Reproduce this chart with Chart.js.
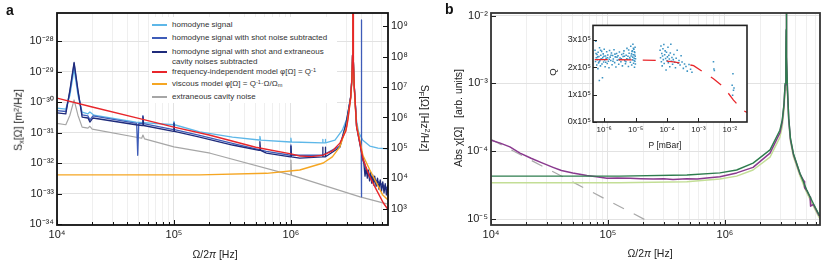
<!DOCTYPE html>
<html><head><meta charset="utf-8">
<script src="https://cdn.jsdelivr.net/npm/chart.js@4.4.1/dist/chart.umd.min.js"></script>
<style>
html,body{margin:0;padding:0;background:#fff;}
#wrap{position:relative;width:830px;height:261px;background:#fff;overflow:hidden;font-family:'Liberation Sans',Arial,sans-serif;}
canvas{position:absolute;}
.t{position:absolute;white-space:nowrap;line-height:1;color:#222;font-family:'Liberation Sans',Arial,sans-serif;}
.t sup{font-size:70%;vertical-align:0.45em;line-height:0;}
.t sub{font-size:70%;vertical-align:-0.25em;line-height:0;}
.rot{transform:translate(-50%,-50%) rotate(-90deg);}
.rotc{transform:translate(-50%,-50%) rotate(90deg);}
.ctr{transform:translate(-50%,-50%);}
.lg{position:absolute;height:2px;width:15px;}
.lt{position:absolute;white-space:nowrap;font-size:8px;line-height:1;color:#333;font-family:'Liberation Sans',Arial,sans-serif;}
.lt sup{font-size:70%;vertical-align:0.4em;line-height:0;}
.lt sub{font-size:70%;vertical-align:-0.2em;line-height:0;}
</style></head>
<body>
<div id="wrap">
<canvas id="ca" width="440" height="261" style="left:0;top:0"></canvas>
<canvas id="cb" width="390" height="261" style="left:440px;top:0"></canvas>
<canvas id="ci" width="215" height="135" style="left:545px;top:18px"></canvas>

<div class="t" style="left:6px;top:3px;font-size:14px;font-weight:bold;color:#111">a</div>
<div class="t" style="left:445px;top:2px;font-size:14px;font-weight:bold;color:#111">b</div>

<div class="t rot" style="left:18px;top:120px;font-size:10.5px">S<sub>x</sub>[Ω] [m<sup>2</sup>/Hz]</div>
<div class="t rotc" style="left:425px;top:118px;font-size:10.5px">S<sub>F</sub>[Ω] [Hz<sup>2</sup>/Hz]</div>
<div class="t ctr" style="left:215px;top:254px;font-size:10.5px">Ω/2<i>π</i> [Hz]</div>
<div class="t rot" style="left:458px;top:118px;font-size:10.5px">Abs χ[Ω]&nbsp;&nbsp;&nbsp;[arb. units]</div>
<div class="t ctr" style="left:650px;top:253px;font-size:10.5px">Ω/2<i>π</i> [Hz]</div>
<div class="t rot" style="left:553px;top:72px;font-size:9.5px">Q</div>
<div class="t ctr" style="left:665px;top:145px;font-size:8.5px">P [mBar]</div>

<div style="position:absolute;left:149px;top:17px;width:188px;height:86px;background:#fff"></div>
<div class="lg" style="left:152px;top:24px;background:#5DB7E8"></div>
<div class="lt" style="left:172px;top:21px">homodyne signal</div>
<div class="lg" style="left:152px;top:37px;background:#3E5CB8"></div>
<div class="lt" style="left:172px;top:34px">homodyne signal with shot noise subtracted</div>
<div class="lg" style="left:152px;top:51px;background:#1F2B7B"></div>
<div class="lt" style="left:172px;top:48px">homodyne signal with shot and extraneous</div>
<div class="lt" style="left:172px;top:58px">cavity noises subtracted</div>
<div class="lg" style="left:152px;top:71px;background:#E8262B"></div>
<div class="lt" style="left:172px;top:68px">frequency-independent model φ[Ω] = Q<sup>-1</sup></div>
<div class="lg" style="left:152px;top:83px;background:#F5A623"></div>
<div class="lt" style="left:172px;top:80px">viscous model φ[Ω] = Q<sup>-1</sup>·Ω/Ω<sub>m</sub></div>
<div class="lg" style="left:152px;top:96px;background:#A6A6A6"></div>
<div class="lt" style="left:172px;top:93px">extraneous cavity noise</div>
</div>

<script>
// ---------------- Panel a data (frequency Hz, S_x m^2/Hz) ----------------
const fLight = [1e4,1.19e4,1.29e4,1.40e4,1.51e4,1.64e4,1.84e4,1.91e4,2.07e4,4.73e4,9.9e4,1.0e5,1.01e5,1.66e5,3.16e5,5.35e5,5.43e5,5.5e5,9.9e5,1.0e6,1.01e6,1.86e6,1.87e6,1.88e6,1.96e6,1.97e6,1.98e6,2.38e6,2.75e6,3.07e6,3.24e6,3.32e6,3.365e6,3.385e6,3.396e6,3.408e6,3.428e6,3.475e6,3.556e6,3.64e6,3.8e6,4.12e6,4.73e6,5.55e6,6.76e6];
const sLight = [6.3e-31,5.9e-31,1.7e-30,1.2e-29,1.7e-30,4.7e-31,4.1e-31,4.7e-31,3.7e-31,2.2e-31,1.8e-31,2.3e-31,1.8e-31,1.05e-31,7.1e-32,5.7e-32,7.5e-32,5.6e-32,4.9e-32,6.5e-32,4.9e-32,4.6e-32,6.0e-32,4.6e-32,4.6e-32,6.0e-32,4.6e-32,5.6e-32,1.2e-31,3.5e-31,1.5e-30,5.8e-30,3.6e-29,2.5e-28,1e-25,1.6e-28,2.2e-29,3.6e-30,8.5e-31,2.4e-31,1.0e-31,5.6e-32,3.6e-32,3.1e-32,2.9e-32];

const fMed = [1e4,1.19e4,1.29e4,1.40e4,1.51e4,1.64e4,1.84e4,1.91e4,2.03e4,4.8e4,4.9e4,5.0e4,5.35e4,5.43e4,5.5e4,9.9e4,1.0e5,1.01e5,1.66e5,3.16e5,6.17e5,9.9e5,1.0e6,1.01e6,1.86e6,2.62e6,2.95e6,3.24e6,3.32e6,3.365e6,3.385e6,3.396e6,3.408e6,3.428e6,3.475e6,3.556e6,3.64e6,3.95e6,3.99e6,4.0e6,4.01e6,4.03e6,4.2e6,4.5e6,5.0e6,5.5e6,6.0e6,6.5e6,6.76e6];
const sMed = [5.2e-31,4.9e-31,2.2e-30,1.8e-29,2.2e-30,3.8e-31,3.5e-31,2.6e-31,3.5e-31,2.0e-31,1.8e-32,2.0e-31,1.95e-31,3.6e-31,1.95e-31,1.25e-31,2.1e-31,1.25e-31,8.0e-32,4.4e-32,2.4e-32,1.8e-32,3.9e-32,1.8e-32,1.8e-32,3.6e-32,1.9e-31,1.45e-30,5.7e-30,3.5e-29,2.5e-28,1e-25,1.6e-28,2.2e-29,3.6e-30,8.0e-31,1.7e-31,3.5e-32,3.5e-32,4.9e-28,7.8e-34,2.5e-32,1.2e-32,4.6e-33,3.4e-33,2.5e-33,2.0e-33,1.6e-33,1.4e-33];

const fNavy = [1e4,1.19e4,1.29e4,1.40e4,1.51e4,1.64e4,1.84e4,1.91e4,2.03e4,4.73e4,5.35e4,5.43e4,5.5e4,9.9e4,1.0e5,1.01e5,1.66e5,3.16e5,5.35e5,5.43e5,5.5e5,6.17e5,9.9e5,1.0e6,1.01e6,1.19e6,1.86e6,1.87e6,1.88e6,1.96e6,1.97e6,1.98e6,2.62e6,2.95e6,3.24e6,3.32e6,3.365e6,3.385e6,3.396e6,3.408e6,3.428e6,3.475e6,3.556e6,3.64e6,4.12e6,4.2e6,4.3e6,4.4e6,4.5e6,4.6e6,4.7e6,4.8e6,4.9e6,5.0e6,5.1e6,5.2e6,5.35e6,5.5e6,5.65e6,5.8e6,5.95e6,6.1e6,6.25e6,6.4e6,6.55e6,6.7e6,6.76e6];
const sNavy = [4.4e-31,4.1e-31,2.5e-30,2.0e-29,2.5e-30,3.2e-31,3.0e-31,2.2e-31,3.0e-31,1.8e-31,1.7e-31,3.3e-31,1.7e-31,1.1e-31,2.0e-31,1.1e-31,7.1e-32,3.9e-32,2.6e-32,5.0e-32,2.6e-32,2.1e-32,1.6e-32,3.6e-32,1.6e-32,1.45e-32,1.6e-32,3.3e-32,1.6e-32,1.6e-32,3.3e-32,1.6e-32,3.3e-32,1.8e-31,1.4e-30,5.6e-30,3.5e-29,2.5e-28,1e-25,1.6e-28,2.2e-29,3.5e-30,7.9e-31,1.6e-31,1.26e-32,1.0e-32,3.7e-33,6.9e-33,3.2e-33,5.9e-33,2.6e-33,5.0e-33,2.2e-33,4.1e-33,1.9e-33,3.7e-33,1.7e-33,3.2e-33,1.4e-33,2.8e-33,1.2e-33,2.4e-33,1.05e-33,2.1e-33,9.0e-34,1.8e-33,1.0e-33];

const fRed = [1e4,2e4,5e4,1e5,2e5,5e5,1e6,1.19e6,1.5e6,1.89e6,2.26e6,2.62e6,2.95e6,3.07e6,3.24e6,3.32e6,3.365e6,3.385e6,3.396e6,3.408e6,3.428e6,3.475e6,3.556e6,3.64e6,4.15e6,4.73e6,5.4e6,6.17e6,6.76e6];
const sRed = [1.35e-30,6.9e-31,2.9e-31,1.5e-31,8.3e-32,3.3e-32,2.0e-32,1.7e-32,1.62e-32,1.82e-32,2.5e-32,4.5e-32,1.12e-31,2.6e-31,1.4e-30,5.6e-30,3.5e-29,2.5e-28,1e-25,1.6e-28,2.2e-29,3.5e-30,7.9e-31,1.55e-31,1.26e-32,3.5e-33,1.3e-33,4.9e-34,3.0e-34];

const fOrange = [1e4,1e5,1.66e5,6.2e5,1.19e6,1.89e6,2.26e6,2.62e6,2.99e6,3.24e6,3.32e6,3.365e6,3.385e6,3.396e6,3.408e6,3.428e6,3.475e6,3.556e6,3.64e6,4.12e6,4.73e6,5.4e6,6.1e6,6.76e6];
const sOrange = [4.1e-33,4.1e-33,4.1e-33,4.6e-33,5.9e-33,1.0e-32,1.6e-32,3.4e-32,1.55e-31,1.26e-30,5.0e-30,3.2e-29,2.2e-28,1e-25,1.4e-28,2.0e-29,3.2e-30,6.3e-31,1.8e-31,1.8e-32,5.9e-33,2.2e-33,8.9e-34,6.2e-34];

const fGray = [1e4,1.19e4,1.29e4,1.40e4,1.51e4,1.64e4,1.84e4,1.91e4,2.0e4,5.3e4,5.43e4,5.6e4,1e5,2.04e5,9.9e5,1.0e6,1.01e6,3.9e6,6.6e6];
const sGray = [2.0e-31,1.8e-31,3.7e-31,1.17e-30,3.7e-31,1.5e-31,1.4e-31,1.6e-31,1.3e-31,6.5e-32,8.3e-32,6.2e-32,3.4e-32,2.1e-32,4.1e-33,1.26e-32,4.0e-33,7.8e-34,4.6e-34];

// ---------------- Panel b data (frequency Hz, |chi| arb. units) ----------------
const fModel = [1e4,1.26e5,4.73e5,9.06e5,1.26e6,1.74e6,2.43e6,2.95e6,3.09e6,3.2e6,3.27e6,3.32e6,3.34e6,3.35e6,3.357e6,3.38e6,3.43e6,3.51e6,3.63e6,3.85e6,4.39e6,5.0e6,5.7e6,6.4e6,6.5e6];
const chiDark = [4.3e-5,4.3e-5,4.47e-5,4.8e-5,5.3e-5,6.7e-5,1.05e-4,2.04e-4,2.88e-4,5.0e-4,1e-3,2.5e-3,6.3e-3,0.1,6.3e-3,2.5e-3,7.9e-4,3.16e-4,1.58e-4,9.3e-5,4.7e-5,2.7e-5,1.7e-5,1.15e-5,1.1e-5];
const chiLight = [3.43e-5,3.43e-5,3.55e-5,3.9e-5,4.3e-5,5.3e-5,8.2e-5,1.6e-4,2.3e-4,4.0e-4,8.0e-4,2.0e-3,5.0e-3,0.1,5.0e-3,2.0e-3,6.5e-4,2.7e-4,1.4e-4,8.3e-5,4.3e-5,2.45e-5,1.55e-5,1.05e-5,1.0e-5];
const fData = [1e4,1.2e4,1.45e4,1.77e4,2.2e4,2.7e4,3.39e4,4.0e4,5.0e4,6.6e4,8.0e4,9.8e4,1.2e5,1.55e5,1.9e5,2.43e5,3.0e5,3.6e5,4.73e5,5.8e5,7.0e5,9.06e5,1.26e6,1.74e6,2.43e6,2.95e6,3.09e6,3.2e6,3.27e6,3.32e6,3.34e6,3.35e6,3.357e6,3.38e6,3.43e6,3.51e6,3.63e6,3.85e6,4.39e6,4.75e6,4.8e6,5.0e6,5.35e6,5.4e6,5.7e6,6.4e6];
const chiData = [1.46e-4,1.32e-4,1.16e-4,9.4e-5,7.9e-5,6.8e-5,5.8e-5,5.2e-5,4.8e-5,4.4e-5,4.2e-5,4.0e-5,4.05e-5,4.0e-5,3.95e-5,3.9e-5,3.95e-5,3.85e-5,3.95e-5,3.9e-5,4.05e-5,4.2e-5,4.8e-5,5.8e-5,9.4e-5,1.86e-4,2.7e-4,4.8e-4,9.5e-4,2.4e-3,6e-3,0.08,6e-3,2.4e-3,7.6e-4,3.0e-4,1.5e-4,9e-5,4.6e-5,3.6e-5,2.9e-5,2.65e-5,2.1e-5,1.55e-5,1.65e-5,1.12e-5];
const fDash = [1e4,2.2e5];
const chiDash = [1.5e-4,9.3e-6];

// ---------------- Inset data (pressure mBar, Q) ----------------
const pModel = [5.0e-7,1e-6,1e-5,6e-5,1.6e-4,7e-4,1.45e-3,3e-3,6.3e-3,1.3e-2,2.5e-2,3.5e-2];
const qModel = [2.28e5,2.28e5,2.27e5,2.25e5,2.2e5,2.06e5,1.82e5,1.58e5,1.28e5,0.8e5,0.44e5,0.35e5];
const pMeas = [5.1e-7,5.3e-7,5.4e-7,5.6e-7,5.8e-7,5.9e-7,6.1e-7,6.3e-7,6.4e-7,6.6e-7,6.8e-7,7.0e-7,7.1e-7,7.3e-7,7.6e-7,7.8e-7,8.0e-7,8.3e-7,8.5e-7,8.8e-7,9.0e-7,9.3e-7,9.6e-7,1.0e-6,1.03e-6,1.07e-6,1.1e-6,1.15e-6,1.2e-6,1.25e-6,1.3e-6,1.36e-6,1.42e-6,1.48e-6,1.55e-6,1.62e-6,1.7e-6,1.78e-6,1.86e-6,1.95e-6,2.05e-6,2.15e-6,2.25e-6,2.36e-6,2.48e-6,2.6e-6,2.75e-6,2.9e-6,3.05e-6,3.2e-6,3.4e-6,3.6e-6,3.8e-6,4.0e-6,4.25e-6,4.5e-6,4.75e-6,5.0e-6,5.3e-6,5.6e-6,5.9e-6,6.2e-6,6.5e-6,6.8e-6,7.0e-6,7.2e-6,7.5e-6,7.7e-6,8.0e-6,8.2e-6,8.4e-6,8.6e-6,8.8e-6,9.0e-6,9.2e-6,9.4e-6,9.5e-6,9.6e-6,9.7e-6,9.8e-6,
5.5e-7,6.2e-7,6.9e-7,7.7e-7,8.7e-7,9.8e-7,1.12e-6,1.28e-6,1.45e-6,1.65e-6,1.9e-6,2.2e-6,2.55e-6,2.95e-6,3.5e-6,4.1e-6,4.9e-6,5.7e-6,6.6e-6,7.4e-6,8.1e-6,8.9e-6,9.3e-6,9.9e-6,7.9e-6,8.5e-6,9.1e-6,6.0e-6,5.2e-6,4.4e-6,
6.0e-5,6.2e-5,6.4e-5,6.6e-5,6.8e-5,7.0e-5,7.2e-5,7.4e-5,7.6e-5,7.9e-5,8.1e-5,8.4e-5,8.7e-5,9.0e-5,9.3e-5,9.6e-5,1.0e-4,1.03e-4,1.07e-4,1.1e-4,1.14e-4,1.18e-4,1.22e-4,1.27e-4,1.32e-4,1.37e-4,1.43e-4,1.5e-4,1.58e-4,1.65e-4,1.75e-4,1.85e-4,1.95e-4,2.1e-4,2.25e-4,2.4e-4,2.6e-4,2.8e-4,3.0e-4,3.3e-4,3.6e-4,4.0e-4,4.4e-4,5.0e-4,5.6e-4,6.2e-4,
3.0e-3,3.1e-3,3.2e-3,1.25e-2,1.18e-2,1.3e-2,1.22e-2,1.35e-2];
const qMeas = [2.62e5,2.21e5,2.95e5,2.35e5,2.08e5,2.47e5,2.28e5,1.95e5,2.55e5,2.16e5,2.39e5,1.52e5,2.71e5,2.24e5,2.05e5,2.44e5,2.31e5,2.58e5,2.12e5,1.62e5,2.36e5,2.49e5,2.19e5,2.66e5,2.27e5,2.02e5,2.41e5,2.33e5,2.57e5,2.14e5,2.45e5,2.22e5,1.98e5,2.61e5,2.37e5,2.25e5,2.52e5,2.09e5,2.43e5,2.3e5,2.64e5,2.17e5,2.38e5,2.01e5,2.5e5,2.26e5,2.42e5,2.11e5,2.56e5,2.34e5,2.2e5,2.47e5,2.05e5,2.39e5,2.6e5,2.24e5,2.13e5,2.44e5,2.69e5,2.29e5,2.03e5,2.51e5,2.36e5,2.18e5,2.77e5,2.41e5,2.08e5,2.58e5,2.27e5,2.84e5,2.46e5,2.15e5,2.66e5,2.33e5,2.0e5,2.54e5,2.22e5,2.73e5,2.4e5,2.12e5,
2.5e5,2.38e5,2.2e5,2.62e5,2.29e5,2.4e5,2.18e5,2.35e5,2.29e5,2.44e5,2.22e5,2.48e5,2.37e5,2.28e5,2.31e5,2.5e5,2.2e5,2.4e5,2.3e5,2.49e5,2.37e5,2.25e5,2.45e5,2.31e5,2.6e5,2.69e5,2.57e5,2.63e5,2.31e5,2.4e5,
2.62e5,2.35e5,2.78e5,2.2e5,2.5e5,2.05e5,2.41e5,2.68e5,2.28e5,2.83e5,2.14e5,2.46e5,2.6e5,2.32e5,1.9e5,2.55e5,2.24e5,2.38e5,2.73e5,2.17e5,2.44e5,2.3e5,2.02e5,2.52e5,2.84e5,2.22e5,2.36e5,2.11e5,2.28e5,2.47e5,2.18e5,1.98e5,2.33e5,2.62e5,2.15e5,2.25e5,2.08e5,2.42e5,2.19e5,1.96e5,2.12e5,2.03e5,1.86e5,2.1e5,1.93e5,1.82e5,
2.2e5,1.94e5,1.88e5,1.76e5,1.34e5,1.16e5,0.98e5,1.24e5];

// ---------------- Tick labels ----------------
const xTickVals = [1e4,1e5,1e6];
const xTickText = ['10⁴','10⁵','10⁶'];
const yTickValsA = [1e-34,1e-33,1e-32,1e-31,1e-30,1e-29,1e-28];
const yTickTextA = ['10⁻³⁴','10⁻³³','10⁻³²','10⁻³¹','10⁻³⁰','10⁻²⁹','10⁻²⁸'];
const y2TickVals = [1e3,1e4,1e5,1e6,1e7,1e8,1e9];
const y2TickText = ['10³','10⁴','10⁵','10⁶','10⁷','10⁸','10⁹'];
const yTickValsB = [1e-5,1e-4,1e-3,1e-2];
const yTickTextB = ['10⁻⁵','10⁻⁴','10⁻³','10⁻²'];
const pTickVals = [1e-6,1e-5,1e-4,1e-3,1e-2];
const pTickText = ['10⁻⁶','10⁻⁵','10⁻⁴','10⁻³','10⁻²'];
const qTickVals = [0,1e5,2e5,3e5];
const qTickText = ['0x10⁵','1x10⁵','2x10⁵','3x10⁵'];

// ---------------- helpers ----------------
Chart.defaults.font.family = "'Liberation Sans', Arial, sans-serif";
function isDecade(v){ if(v<=0) return false; const l=Math.log10(v); return Math.abs(l-Math.round(l))<1e-6; }
function lab(v, vals, texts){ const i = vals.findIndex(u => Math.abs(u-v) <= Math.abs(u)*1e-6 + 1e-300); return i>=0 ? texts[i] : ''; }
function logTicks(min, max, minor){
  const out=[]; const e0=Math.floor(Math.log10(min)), e1=Math.ceil(Math.log10(max));
  for(let e=e0;e<=e1;e++){ const ms = minor?[1,2,3,4,5,6,7,8,9]:[1];
    for(const m of ms){ const v=m*Math.pow(10,e); if(v>=min*0.9999 && v<=max*1.0001) out.push({value:v}); } }
  return out;
}
function ds(label, xs, ys, color, w, dash){
  return {label, data: xs.map((x,i)=>({x, y: ys[i]})), borderColor: color, backgroundColor: color,
    borderWidth: w||1.3, pointRadius:0, tension:0, fill:false, borderDash: dash||[], borderJoinStyle:'round'};
}
const gridCol = c => (c.tick && isDecade(c.tick.value)) ? '#e2e2e2' : '#efefef';

const framePlugin = {
  id:'frame',
  beforeDraw(chart, args, o){
    if(o.fill){ const a=chart.chartArea, ctx=chart.ctx; ctx.save(); ctx.fillStyle=o.fill; ctx.fillRect(a.left,a.top,a.right-a.left,a.bottom-a.top); ctx.restore(); }
  },
  afterDatasetsDraw(chart, args, o){
    const ctx=chart.ctx, a=chart.chartArea;
    ctx.save();
    ctx.strokeStyle=o.tickColor||'#000'; ctx.lineWidth=1;
    (o.ticks||[]).forEach(sp=>{
      const s=chart.scales[sp.id];
      s.ticks.forEach(t=>{
        const maj = sp.log ? isDecade(t.value) : true;
        if(!maj && !sp.minorLen) return;
        const L = maj ? sp.len : sp.minorLen;
        const p = Math.round(s.getPixelForValue(t.value))+0.5;
        ctx.beginPath();
        if(sp.side==='bottom'){ ctx.moveTo(p,a.bottom); ctx.lineTo(p,a.bottom-L); }
        else if(sp.side==='left'){ ctx.moveTo(a.left,p); ctx.lineTo(a.left+L,p); }
        else { ctx.moveTo(a.right,p); ctx.lineTo(a.right-L,p); }
        ctx.stroke();
      });
    });
    ctx.strokeStyle=o.color; ctx.lineWidth=o.width;
    ctx.strokeRect(a.left, a.top, a.right-a.left, a.bottom-a.top);
    ctx.restore();
  }
};

function logAxis(pos, min, max, minor, vals, texts, size, opts){
  return Object.assign({
    type:'logarithmic', position:pos, min, max, bounds:'data',
    afterBuildTicks: s => { s.ticks = logTicks(s.min, s.max, minor); },
    ticks:{ autoSkip:false, maxRotation:0, minRotation:0, color:'#222', font:{size:size||11},
      callback: v => lab(v, vals, texts) },
    grid:{ drawTicks:false, color: gridCol, lineWidth:1 },
    border:{ display:false }
  }, opts||{});
}

// ---------------- Panel a ----------------
new Chart(document.getElementById('ca'), {
  type:'line',
  data:{ datasets:[
    ds('frequency-independent model', fRed, sRed, '#E8262B', 1.4),
    ds('viscous model', fOrange, sOrange, '#F5A623', 1.4),
    ds('homodyne signal with shot and extraneous cavity noises subtracted', fNavy, sNavy, '#1F2B7B', 1.3),
    ds('homodyne signal with shot noise subtracted', fMed, sMed, '#3E5CB8', 1.3),
    ds('homodyne signal', fLight, sLight, '#5DB7E8', 1.3),
    ds('extraneous cavity noise', fGray, sGray, '#A6A6A6', 1.2)
  ]},
  options:{
    responsive:false, animation:false, devicePixelRatio:1,
    layout:{ padding:{ top:13, left:0, right:0, bottom:0 } },
    plugins:{ legend:{display:false}, tooltip:{enabled:false},
      frame:{ color:'#111', width:1.8, tickColor:'#111', ticks:[
        {id:'x', side:'bottom', log:true, len:5, minorLen:3},
        {id:'y', side:'left', log:true, len:5},
        {id:'y2', side:'right', log:true, len:5}
      ]}},
    scales:{
      x: logAxis('bottom', 1e4, 6.76e6, true, xTickVals, xTickText, 11, { afterFit: s=>{ s.height=36; } }),
      y: logAxis('left', 9.3e-35, 8.3e-28, false, yTickValsA, yTickTextA, 11, { afterFit: s=>{ s.width=57; } }),
      y2: logAxis('right', 295, 2.7e9, false, y2TickVals, y2TickText, 11, { afterFit: s=>{ s.width=52; }, grid:{display:false, drawTicks:false} })
    }
  },
  plugins:[framePlugin]
});

// ---------------- Panel b ----------------
new Chart(document.getElementById('cb'), {
  type:'line',
  data:{ datasets:[
    ds('model', fModel, chiDark, '#2E7D4E', 1.4),
    ds('measured', fData, chiData, '#8A3A8F', 1.5),
    ds('model 2', fModel, chiLight, '#C3DE96', 1.4),
    ds('low-frequency asymptote', fDash, chiDash, '#A8A8A8', 1.2, [12,11])
  ]},
  options:{
    responsive:false, animation:false, devicePixelRatio:1,
    layout:{ padding:{ top:13, left:0, right:10, bottom:0 } },
    plugins:{ legend:{display:false}, tooltip:{enabled:false},
      frame:{ color:'#333', width:1.8, tickColor:'#222', ticks:[
        {id:'x', side:'bottom', log:true, len:5, minorLen:3},
        {id:'y', side:'left', log:true, len:5}
      ]}},
    scales:{
      x: logAxis('bottom', 1e4, 6.5e6, true, xTickVals, xTickText, 11, { afterFit: s=>{ s.height=36; } }),
      y: logAxis('left', 8.2e-6, 1.09e-2, false, yTickValsB, yTickTextB, 11, { afterFit: s=>{ s.width=51; } })
    }
  },
  plugins:[framePlugin]
});

// ---------------- Inset ----------------
new Chart(document.getElementById('ci'), {
  type:'scatter',
  data:{ datasets:[
    { label:'model', data: pModel.map((p,i)=>({x:p, y:qModel[i]})), showLine:true, borderColor:'#E8262B', borderWidth:1.3,
      borderDash:[13,11], pointRadius:0, tension:0, fill:false },
    { label:'measured Q', data: pMeas.map((p,i)=>({x:p, y:qMeas[i]})), showLine:false, pointStyle:'rect',
      pointRadius:1.1, pointBorderWidth:0, backgroundColor:'#3B93C3', borderColor:'#3B93C3' }
  ]},
  options:{
    responsive:false, animation:false, devicePixelRatio:1,
    layout:{ padding:{ top:7, left:0, right:13, bottom:0 } },
    plugins:{ legend:{display:false}, tooltip:{enabled:false},
      frame:{ fill:'#fff', color:'#222', width:1.6, tickColor:'#222', ticks:[
        {id:'x', side:'bottom', log:true, len:4},
        {id:'y', side:'left', log:false, len:4}
      ]}},
    scales:{
      x: logAxis('bottom', 4.4e-7, 3.5e-2, false, pTickVals, pTickText, 8, { afterFit: s=>{ s.height=31; }, grid:{display:false, drawTicks:false} }),
      y: { type:'linear', position:'left', min:0, max:3.53e5, bounds:'data',
        afterBuildTicks: s => { s.ticks = qTickVals.map(v=>({value:v})); },
        afterFit: s=>{ s.width=48; },
        ticks:{ autoSkip:false, color:'#222', font:{size:9}, padding:2, callback: v => lab(v, qTickVals, qTickText) },
        grid:{ display:false, drawTicks:false }, border:{display:false} }
    }
  },
  plugins:[framePlugin]
});
</script>
</body></html>
